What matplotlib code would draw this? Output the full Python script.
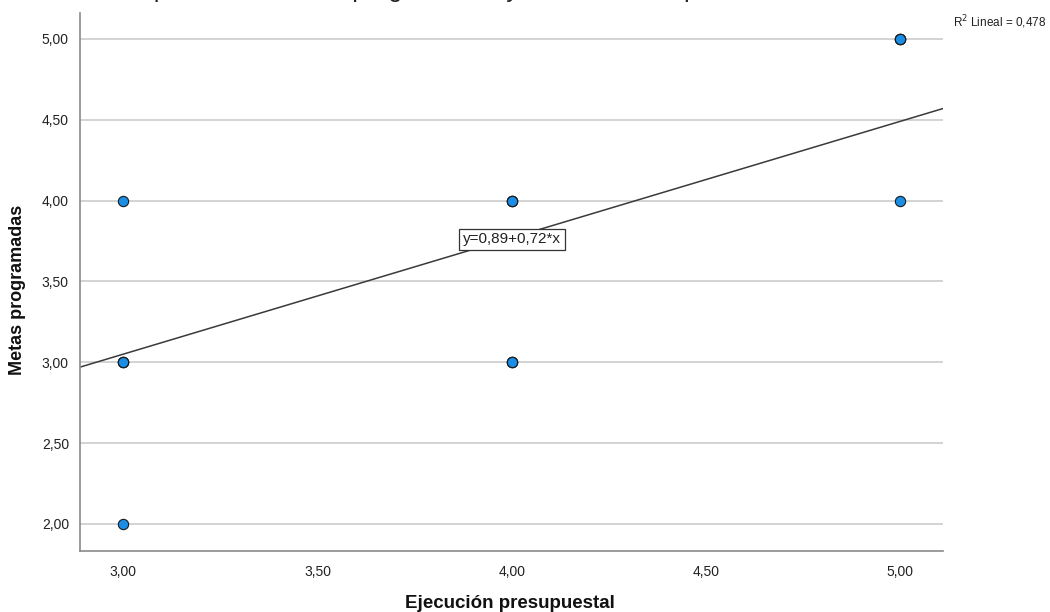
import matplotlib
matplotlib.use("Agg")
import matplotlib.pyplot as plt

plt.rcParams['font.family'] = ['Liberation Sans', 'DejaVu Sans']

# Data (points; repeated points drawn with count)
x_vals = [3, 3, 3, 4, 4, 5, 5]
y_vals = [4, 3, 2, 4, 3, 5, 4]
counts = [1, 3, 1, 3, 3, 3, 1]
intercept = 0.89
slope = 0.72
r2 = 0.478
x_ticks = [3.0, 3.5, 4.0, 4.5, 5.0]
y_ticks = [2.0, 2.5, 3.0, 3.5, 4.0, 4.5, 5.0]
title = "Gráfico de dispersión de Metas programadas y Gestión Presupuestal"

fig = plt.figure(figsize=(10.5, 6.12), dpi=100)
ax = fig.add_axes([80/1050, 1-551/612, (943-80)/1050, (551-13)/612])

xlim = (2.889, 5.11)
ylim = (1.833, 5.16)
ax.set_xlim(*xlim)
ax.set_ylim(*ylim)

for yt in y_ticks:
    ax.axhline(yt, color='#c8c8c8', lw=1.1, zorder=1)

# regression line
ax.plot(xlim, [intercept + slope * xlim[0], intercept + slope * xlim[1]],
        color='#3a3a3a', lw=1.1, zorder=2)

for xv, yv, c in zip(x_vals, y_vals, counts):
    for _ in range(c):
        ax.scatter([xv], [yv], s=55, color='#1a8de6', edgecolors='#1a1a1a',
                   linewidths=0.8, zorder=3)

ax.text(4.0, 3.76, "y=0,89+0,72*x", ha='center', va='center', fontsize=11,
        color='#222222', zorder=4,
        bbox=dict(boxstyle='square,pad=0.25', fc='white', ec='#333333', lw=0.9))

for s in ['top', 'right']:
    ax.spines[s].set_visible(False)
for s in ['left', 'bottom']:
    ax.spines[s].set_color('#8a8a8a')
    ax.spines[s].set_linewidth(1.2)

ax.set_xticks(x_ticks)
ax.set_xticklabels([f"{t:.2f}".replace('.', ',') for t in x_ticks])
ax.set_yticks(y_ticks)
ax.set_yticklabels([f"{t:.2f}".replace('.', ',') for t in y_ticks])
ax.tick_params(axis='both', length=0, labelsize=10, colors='#222222')
ax.tick_params(axis='x', pad=10)
ax.tick_params(axis='y', pad=8)

fig.text(510/1050, 1-603/612, "Ejecución presupuestal", ha='center', va='center',
         fontsize=13.5, fontweight='bold', color='#111111')
fig.text(18/1050, 1-290/612, "Metas programadas", ha='center', va='center',
         rotation=90, fontsize=13, fontweight='bold', color='#111111')
fig.text(1046/1050, 1-22/612, "R$^2$ Lineal = 0,478", ha='right', va='center',
         fontsize=8.5, color='#222222')

# cut-off title at the very top
fig.text(0.0, 1 + 10/612, title, ha='left', va='center', fontsize=18, color='#222222')

fig.savefig("out.png", dpi=100)
